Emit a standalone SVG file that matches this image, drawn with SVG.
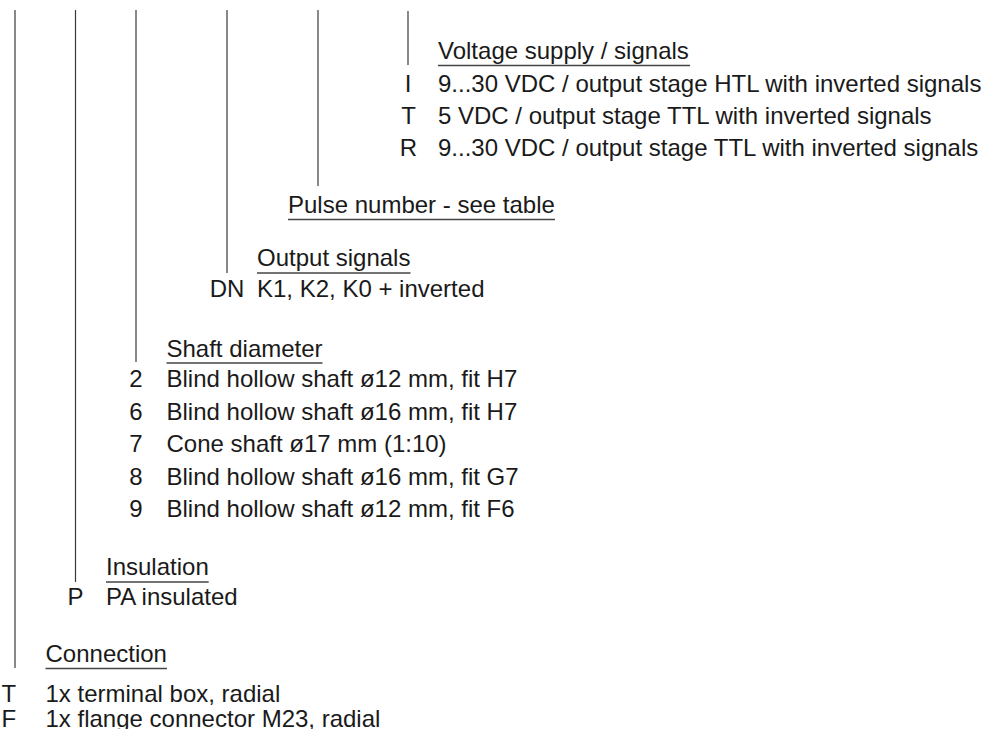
<svg xmlns="http://www.w3.org/2000/svg" width="984" height="729" viewBox="0 0 984 729">
<style>
text{font-family:"Liberation Sans",Arial,sans-serif;font-size:24px;fill:#1a1a1a}
.c{text-anchor:middle}
.conn line{stroke:#3a3a3a;stroke-width:1.2}
.ul{stroke:#444;stroke-width:1.3}
</style>
<rect width="984" height="729" fill="#fff"/>
<g id="connectors" class="conn">
<line x1="15" y1="10" x2="15" y2="668"/>
<line x1="75.5" y1="10" x2="75.5" y2="582"/>
<line x1="136" y1="10" x2="136" y2="362"/>
<line x1="227" y1="10" x2="227" y2="273"/>
<line x1="318" y1="10" x2="318" y2="186"/>
<line x1="408" y1="11" x2="408" y2="65"/>
</g>
<g id="voltage">
<text x="438" y="58.5">Voltage supply / signals</text>
<line class="ul" x1="438" y1="65.5" x2="690" y2="65.5"/>
<text class="c" x="408" y="91.5">I</text><text x="438" y="91.5">9...30 VDC / output stage HTL with inverted signals</text>
<text class="c" x="408.5" y="123.5">T</text><text x="438" y="123.5">5 VDC / output stage TTL with inverted signals</text>
<text class="c" x="408.5" y="155.5">R</text><text x="438" y="155.5">9...30 VDC / output stage TTL with inverted signals</text>
</g>
<g id="pulse">
<text x="288" y="212.5">Pulse number - see table</text>
<line class="ul" x1="288" y1="219.5" x2="555" y2="219.5"/>
</g>
<g id="output">
<text x="257" y="266">Output signals</text>
<line class="ul" x1="257" y1="273" x2="410.5" y2="273"/>
<text class="c" x="227" y="297">DN</text><text x="257" y="297">K1, K2, K0 + inverted</text>
</g>
<g id="shaft">
<text x="166.5" y="356.5">Shaft diameter</text>
<line class="ul" x1="166.5" y1="363" x2="322.5" y2="363"/>
<text class="c" x="136" y="387">2</text><text x="166.5" y="387">Blind hollow shaft ø12 mm, fit H7</text>
<text class="c" x="136" y="419.5">6</text><text x="166.5" y="419.5">Blind hollow shaft ø16 mm, fit H7</text>
<text class="c" x="136" y="452">7</text><text x="166.5" y="452">Cone shaft ø17 mm (1:10)</text>
<text class="c" x="136" y="484.5">8</text><text x="166.5" y="484.5">Blind hollow shaft ø16 mm, fit G7</text>
<text class="c" x="136" y="517">9</text><text x="166.5" y="517">Blind hollow shaft ø12 mm, fit F6</text>
</g>
<g id="insulation">
<text x="106" y="575">Insulation</text>
<line class="ul" x1="106" y1="582" x2="208.7" y2="582"/>
<text class="c" x="75.5" y="605">P</text><text x="106" y="605">PA insulated</text>
</g>
<g id="connection">
<text x="45.5" y="662">Connection</text>
<line class="ul" x1="45.5" y1="668.5" x2="167" y2="668.5"/>
<text x="1.5" y="702">T</text><text x="45.5" y="702">1x terminal box, radial</text>
<text x="1.5" y="727">F</text><text x="45.5" y="727">1x flange connector M23, radial</text>
</g>
</svg>
